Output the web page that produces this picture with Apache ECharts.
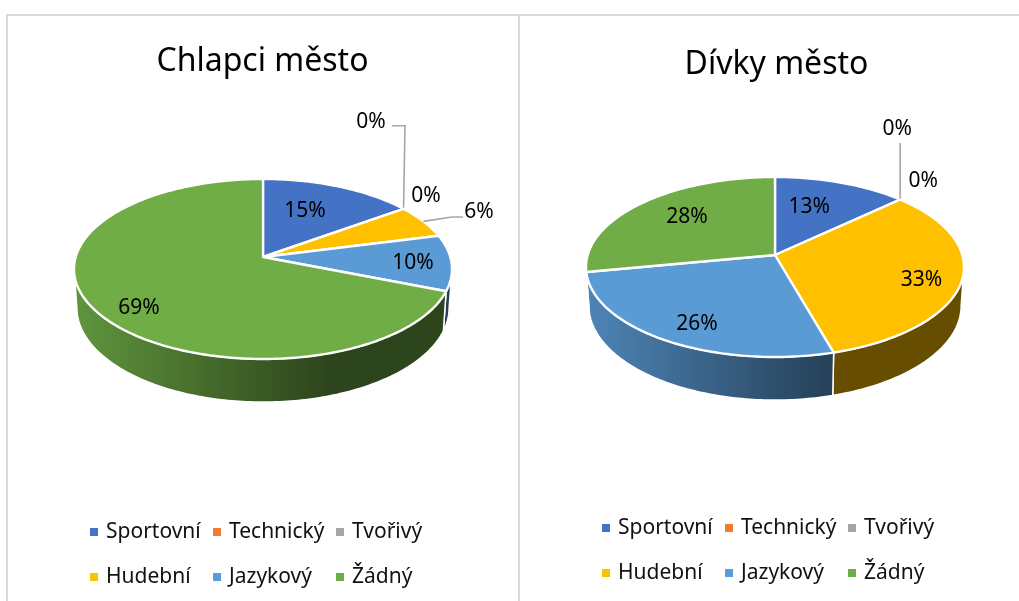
<!DOCTYPE html>
<html>
<head>
<meta charset="utf-8">
<style>html,body{margin:0;padding:0;background:#fff}#c{width:1019px;height:601px}</style>
<script src="https://cdn.jsdelivr.net/npm/echarts@6/dist/echarts.min.js"></script>
</head>
<body>
<div id="c"></div>
<script>
// --- data ---
const categories = ['Sportovní', 'Technický', 'Tvořivý', 'Hudební', 'Jazykový', 'Žádný'];
const titles = ['Chlapci město', 'Dívky město'];
const boysValues = [15, 0, 0, 6, 10, 69];
const girlsValues = [13, 0, 0, 32.6, 26.4, 28];
const valueSets = [boysValues, girlsValues];

// --- style and layout ---
const palette = ['#4472c4', '#ed7d31', '#a5a5a5', '#ffc000', '#5b9bd5', '#70ad47'];
const FONT = 'Noto Sans';
const TITLE_SIZE = 32, LABEL_SIZE = 21, LEGEND_SIZE = 21;
const panels = [
  {
    cx: 263, cy: 257, titleX: 257.5, titleY: 57,
    legendX: [90, 213, 336], legendY: [532, 577],
    labelNudge: [[-34, 24], [22.5, -13], [-32.5, -87], [55.6, -9], [-38.5, 0.4], [43.4, -2.7]],
    leaders: { 2: [[1.5, -83], [-11.5, -83]], 3: [[28.6, -4.4], [39.6, -4.4]] }
  },
  {
    cx: 775, cy: 255, titleX: 771.5, titleY: 60,
    legendX: [602, 725, 848], legendY: [528, 573],
    labelNudge: [[-32, 24], [23, -18.5], [-3, -70.5], [-40.7, 0.4], [33, -16], [45, 14]],
    leaders: { 2: [[0, -56.5]] }
  }
];
const RX = 187.3, RY = 88.4, PERSPECTIVE = 0.1333;
const WALL_SX = 0.985, WALL_SY = 1.05, WALL_H = 38;
const FRONT_FROM = 97.66, FRONT_TO = 262.34;

function rim(deg) {
  const a = deg * Math.PI / 180, u = Math.sin(a), v = -Math.cos(a), w = 1 - PERSPECTIVE * v;
  return [RX * u / w, RY * v / w];
}
function scaleColor(hex, f) {
  const n = parseInt(hex.slice(1), 16);
  const c = s => Math.round(((n >> s) & 255) * f);
  return `rgb(${c(16)},${c(8)},${c(0)})`;
}
function arc(from, to) {
  const pts = [], n = Math.max(1, Math.ceil(Math.abs(to - from)));
  for (let i = 0; i <= n; i++) pts.push(rim(from + (to - from) * i / n));
  return pts;
}

function sliceRenderer(panel, values, idx) {
  const total = values.reduce((a, b) => a + b, 0);
  const before = values.slice(0, idx).reduce((a, b) => a + b, 0);
  return function (params, api) {
    const value = api.value(0);
    const a0 = before / total * 360, a1 = (before + value) / total * 360;
    const cx = panel.cx, cy = panel.cy, base = palette[idx];
    const children = [];
    const off = p => [cx + p[0], cy + p[1]];
    if (value > 0) {
      const w0 = Math.max(a0, FRONT_FROM), w1 = Math.min(a1, FRONT_TO);
      if (w1 > w0) {
        const top = arc(w0, w1);
        const bottom = top.slice().reverse().map(p => [p[0] * WALL_SX, p[1] * WALL_SY + WALL_H]);
        children.push({
          type: 'polygon',
          shape: { points: top.concat(bottom).map(off) },
          style: {
            fill: new echarts.graphic.LinearGradient(cx - 189, 0, cx + 189, 0, [
              { offset: 0, color: scaleColor(base, 0.86) },
              { offset: 0.67, color: scaleColor(base, 0.4) },
              { offset: 1, color: scaleColor(base, 0.4) }
            ], true),
            stroke: '#fff', lineWidth: 1.5
          }
        });
      }
      children.push({
        type: 'polygon',
        shape: { points: [[0, 0]].concat(arc(a0, a1)).map(off) },
        style: { fill: base, stroke: '#fff', lineWidth: 2.4, lineJoin: 'round' }
      });
    }
    const mid = rim((a0 + a1) / 2);
    const leader = panel.leaders[idx];
    if (leader) {
      children.push({
        type: 'polyline',
        shape: { points: [mid].concat(leader.map(o => [mid[0] + o[0], mid[1] + o[1]])).map(off) },
        style: { fill: null, stroke: '#a6a6a6', lineWidth: 1.6 }
      });
    }
    const nudge = panel.labelNudge[idx];
    children.push({
      type: 'text',
      z2: 10,
      style: {
        x: cx + mid[0] + nudge[0], y: cy + mid[1] + nudge[1],
        text: Math.round(value / total * 100) + '%',
        fill: '#000', font: LABEL_SIZE + 'px "' + FONT + '"',
        align: 'center', verticalAlign: 'middle'
      }
    });
    return { type: 'group', children };
  };
}

const series = [], legends = [], titleItems = [];
panels.forEach((panel, p) => {
  titleItems.push({
    text: titles[p], left: panel.titleX, top: panel.titleY, textAlign: 'center', textVerticalAlign: 'middle',
    textStyle: { fontFamily: FONT, fontSize: TITLE_SIZE, fontWeight: 'normal', color: '#000' }
  });
  categories.forEach((name, i) => {
    series.push({
      type: 'custom', name, coordinateSystem: 'none', silent: true,
      z: i === 5 ? 3 : 2,
      itemStyle: { color: palette[i] },
      data: [[valueSets[p][i]]],
      renderItem: sliceRenderer(panel, valueSets[p], i)
    });
    const col = i % 3, row = Math.floor(i / 3);
    legends.push({
      data: [{ name, icon: 'rect' }], selectedMode: false, padding: 0,
      left: panel.legendX[col], top: panel.legendY[row] - 15,
      itemWidth: 8, itemHeight: 8, itemGap: 0, height: 30,
      textStyle: { fontFamily: FONT, fontSize: LEGEND_SIZE, color: '#111', padding: [0, 0, 0, 3], lineHeight: 30 }
    });
  });
});

const frame = [[6, 15, 1019, 15], [7, 15, 7, 601], [519, 15, 519, 601]];
const chart = echarts.init(document.getElementById('c'), null, { renderer: 'canvas' });
chart.setOption({
  backgroundColor: '#fff', animation: false,
  title: titleItems, legend: legends, series,
  graphic: frame.map(f => ({
    type: 'line', shape: { x1: f[0], y1: f[1], x2: f[2], y2: f[3] },
    style: { stroke: '#d9d9d9', lineWidth: 2 }, silent: true
  }))
});
</script>
</body>
</html>
